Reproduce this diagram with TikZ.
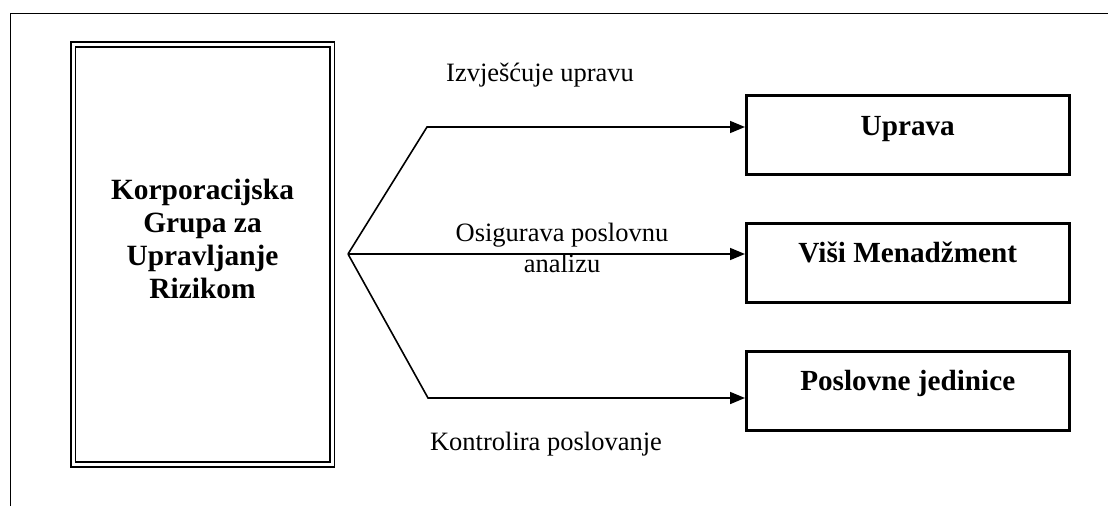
\documentclass[tikz,border=0pt]{standalone}
\usepackage{fontspec}
\setmainfont{Liberation Serif}
\usetikzlibrary{arrows.meta}
\begin{document}
\begin{tikzpicture}[x=1pt,y=-1pt,
  frame/.style={line width=1.6pt},
  mainbox/.style={draw, double, double distance=3pt, line width=1.8pt, minimum width=259pt, minimum height=420pt, inner sep=0pt},
  unitbox/.style={draw, line width=3pt, minimum width=322.5pt, minimum height=79pt, inner sep=0pt, font=\fontsize{29.2}{33}\selectfont\bfseries, text height=10pt, text depth=10pt},
  titletext/.style={font=\fontsize{29.4}{33}\selectfont\bfseries, align=center, inner sep=0pt},
  lbl/.style={font=\fontsize{26.5}{31}\selectfont, align=center, inner sep=0pt},
  arr/.style={line width=1.6pt, -{Triangle[length=15pt,width=12pt]}}
]
\useasboundingbox (0,0) rectangle (1108,506);
% outer frame (open to the right and bottom)
\coordinate (fb) at (10.5,506);
\coordinate (fc) at (10.5,13.5);
\coordinate (fr) at (1108,13.5);
\draw[frame] (fb) -- (fc) -- (fr);

% main group box
\node[mainbox] (kg) at (202.5,254.5) {};
\node[titletext] (kgt) at (202.5,238.5) {Korporacijska\\Grupa za\\Upravljanje\\Rizikom};

% target boxes
\node[unitbox] (upr) at (907.75,135) {Uprava};
\node[unitbox] (vm) at (907.75,262.5) {Viši Menadžment};
\node[unitbox] (pj) at (907.75,390.5) {Poslovne jedinice};

% connectors
\coordinate (J) at (348,254);
\coordinate (b1) at (427,127);
\coordinate (b3) at (428,398);
\draw[arr, line join=miter] (J) -- (b1) -- (upr.west |- b1);
\draw[arr] (J) -- (vm.west |- J);
\draw[arr, line join=miter] (J) -- (b3) -- (pj.west |- b3);

% labels
\node[lbl, anchor=base] (l1) at (540,81) {Izvješćuje upravu};
\node[lbl] (l2) at (562,247.5) {Osigurava poslovnu\\analizu};
\node[lbl, anchor=base] (l3) at (546,450) {Kontrolira poslovanje};
\end{tikzpicture}
\end{document}
